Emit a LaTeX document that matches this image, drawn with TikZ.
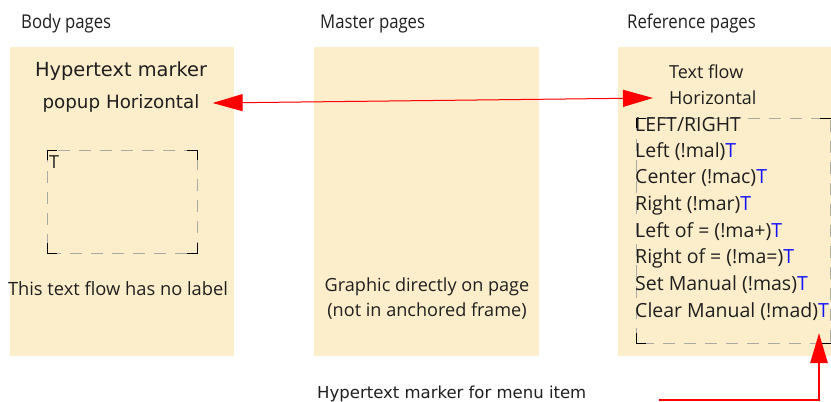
\documentclass[tikz,border=0pt]{standalone}
\usepackage{fontspec}
\setmainfont{DejaVu Sans}
\newfontfamily\opensans{Open Sans}
\newfontfamily\titlefont[FakeStretch=0.88]{Open Sans}
\usetikzlibrary{arrows.meta,positioning}
\definecolor{pagefill}{RGB}{253,238,203}
\definecolor{framegray}{RGB}{170,170,165}
\definecolor{markblue}{RGB}{20,20,250}
\newcommand{\fs}[1]{\fontsize{#1}{#1}\selectfont}
\newcommand{\bt}{\textcolor{markblue}{T}}

\begin{document}
\begin{tikzpicture}
        [x=1pt,y=-1pt,every node/.style={inner sep=0pt,text=black!88},
         pagebox/.style={fill=pagefill,draw=none},
         pagetitle/.style={anchor=west,font=\titlefont\fs{19}},
         flowframe/.style={draw=framegray,line width=.8pt,dash pattern=on 12pt off 9pt},
         corner/.style={draw=black,line width=1pt},
         redlink/.style={draw=red,fill=red,line width=1pt,
           arrows={Triangle[length=30pt,width=17pt]-Triangle[length=30pt,width=17pt]}},
         menulink/.style={draw=red,line width=2.6pt,-{Triangle[length=30pt,width=17pt]}},
         listitem/.style={anchor=west,font=\opensans\fs{19.5}}]
        \useasboundingbox (0,0) rectangle (831,402);

        % page backgrounds
        \fill[pagebox] (10,47) rectangle (234,356);
        \fill[pagebox] (314,47) rectangle (539,356);
        \fill[pagebox] (618,47) rectangle (831,356);

        \node[pagetitle] (tbody) at (21,24) {Body pages};
        \node[pagetitle] (tmaster) at (320,24) {Master pages};
        \node[pagetitle] (tref) at (627,24) {Reference pages};

        % body page
        \node[font=\fs{19.4}] (hyp) at (121,71) {Hypertext marker};
        \node[font=\fs{18.3}] (popup) at (121,103) {popup Horizontal};
        \draw[flowframe] (47,150) rectangle (197,253);
        \draw[corner] (57,150) -- (47,150) -- (47,160);
        \draw[corner] (187,150) -- (197,150) -- (197,160);
        \draw[corner] (47,243) -- (47,253) -- (57,253);
        \draw[corner] (197,243) -- (197,253) -- (187,253);
        \node[anchor=west,font=\opensans\fs{18}] (tbox) at (49,162) {T};
        \node[font=\opensans\fs{18.3}] (nolabel) at (118,289) {This text flow has no label};

        % master page
        \node[font=\opensans\fs{18.1}] (graphic) at (427,287) {Graphic directly on page};
        \node[font=\opensans\fs{18.1}] (notanch) at (427,311) {(not in anchored frame)};

        % reference page
        \node[anchor=west,font=\opensans\fs{18}] (tflow) at (669,72) {Text flow};
        \node[anchor=west,font=\opensans\fs{18}] (horiz) at (669,98) {Horizontal};
        \draw[flowframe] (636,118) rectangle (830,343);
        \draw[corner] (646,118) -- (636,118) -- (636,128);
        \draw[corner] (820,118) -- (831,118);
        \draw[corner] (636,333) -- (636,343) -- (646,343);
        \draw[corner] (820,343) -- (831,343);
        \foreach \i/\txt in {0/LEFT\slash RIGHT, 1/Left (!mal)\bt, 2/Center (!mac)\bt,
            3/Right (!mar)\bt, 4/Left of = (!ma+)\bt, 5/Right of = (!ma=)\bt,
            6/Set Manual (!mas)\bt, 7/Clear Manual (!mad)\bt}
            \node[listitem] (item\i) at (635,125+26.65*\i) {\txt};

        \node[anchor=west,font=\fs{16.5}] (menucap) at (317,394) {Hypertext marker for menu item};
        \coordinate (menustart) at (659,400);
        \coordinate (menutip) at (819,333);

        \draw[redlink] ([xshift=13pt]popup.east) -- ([xshift=-16pt]horiz.west);
        \draw[menulink] (menustart) -| (menutip);

      \end{tikzpicture}
\end{document}
